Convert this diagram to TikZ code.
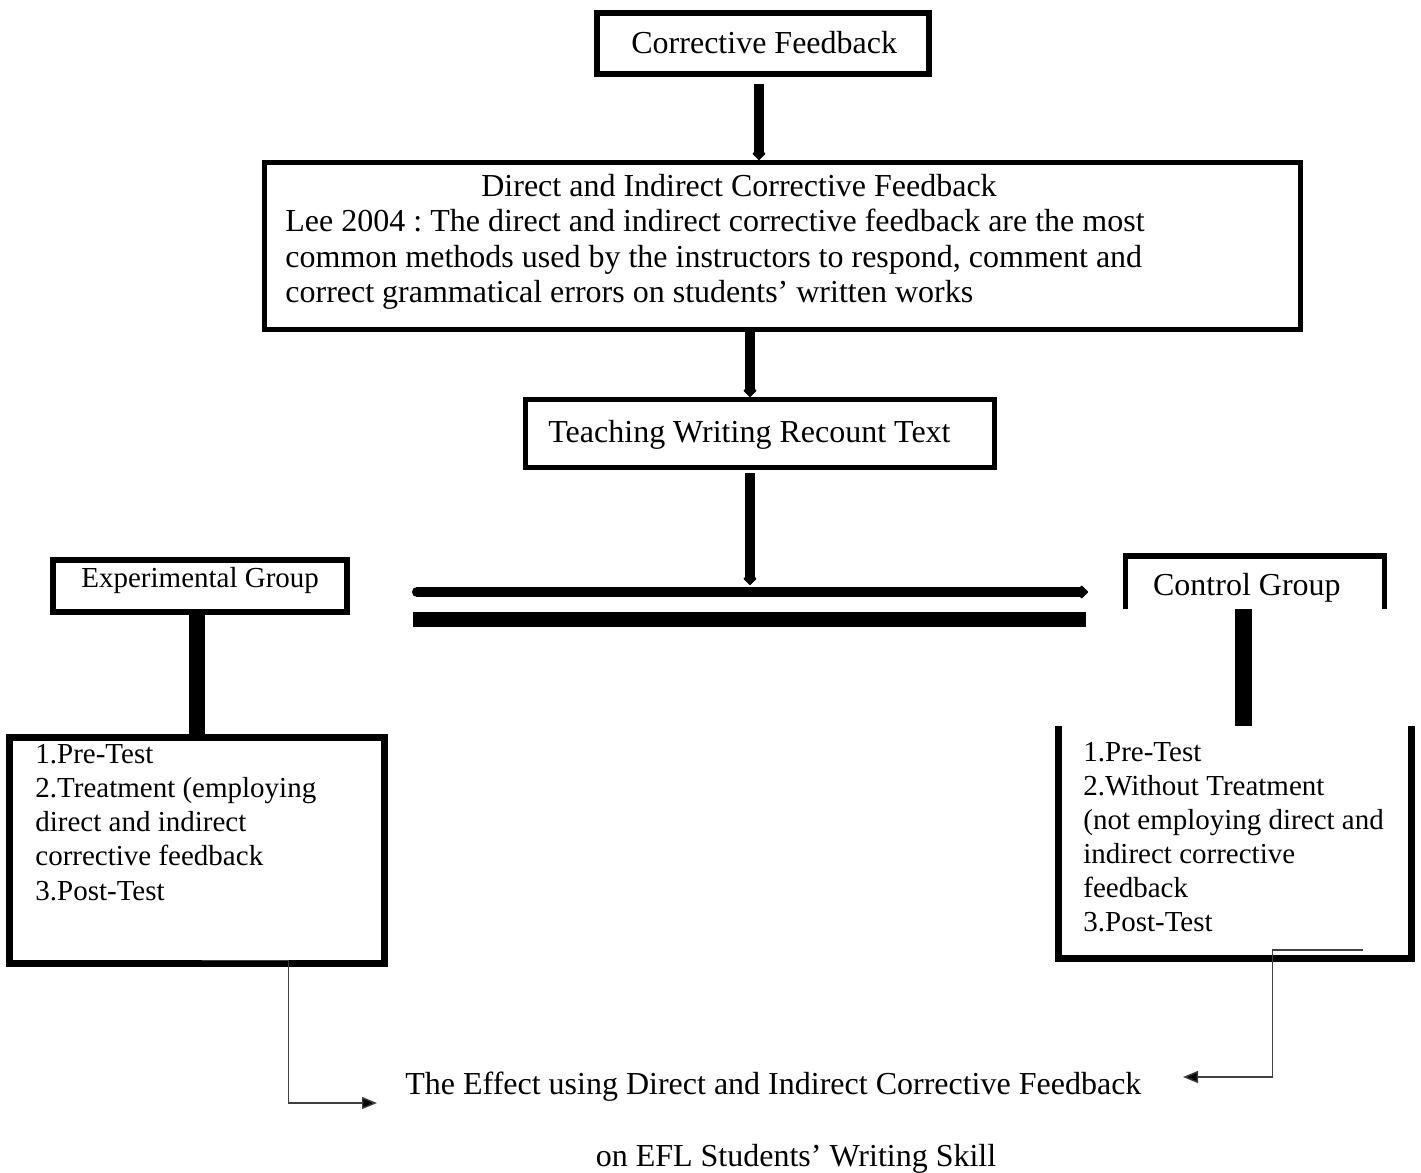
\documentclass[tikz,border=0pt]{standalone}
\usepackage{fontspec}
\setmainfont{Liberation Serif}
\usetikzlibrary{arrows.meta,calc}
\frenchspacing
\begin{document}
\begin{tikzpicture}[x=0.5pt,y=-0.5pt,
  boxthick/.style={draw, line width=3pt, inner sep=0pt},
  boxmid/.style={draw, line width=2.5pt, inner sep=0pt},
  openbox/.style={inner sep=0pt, outer sep=0pt},
  txtL/.style={inner sep=0pt, anchor=base west, font=\fontsize{16}{19}\selectfont},
  txtS/.style={inner sep=0pt, anchor=base west, font=\fontsize{14.5}{17}\selectfont},
  stem/.style={line width=5pt, -{Triangle[length=4pt,width=7.5pt,round]}},
  thinconn/.style={line width=0.7pt, draw=black!75, -{Triangle[length=7.5pt,width=6pt,fill=black]}}]
\fill[white] (0,0) rectangle (1421,1173);
\useasboundingbox (0,0) rectangle (1421,1173);

% top boxes
\node[boxthick, minimum width=166pt, minimum height=30.5pt] (b1) at (763,43.5) {};
\node[txtL] (t1) at (631,53) {Corrective Feedback};
\node[boxmid, minimum width=518pt, minimum height=83.5pt] (b2) at (782.5,246) {};
\node[txtL, anchor=base] (t2a) at (739,196) {Direct and Indirect Corrective Feedback};
\node[txtL] (t2b) at (285,231.5) {Lee 2004 : The direct and indirect corrective feedback are the most};
\node[txtL] (t2c) at (285,267) {common methods used by the instructors to respond, comment and};
\node[txtL] (t2d) at (285,302.5) {correct grammatical errors on students’ written works};
\node[boxmid, minimum width=234.5pt, minimum height=34pt] (b3) at (760,433.5) {};
\node[txtL] (t3) at (548,442) {Teaching Writing Recount Text};

% stems
\coordinate (x1) at (759,0);
\coordinate (x2) at (750,0);
\draw[stem, shorten <=3.5pt] (b1.south -| x1) -- (b2.north -| x1);
\draw[stem] (b2.south -| x2) -- (b3.north -| x2);
\coordinate (h1a) at (417,592);
\coordinate (h1b) at (1088,592);
\coordinate (h2a) at (413,619);
\coordinate (h2b) at (1086,619);
\draw[stem, shorten <=1.5pt, shorten >=3.5pt] (b3.south -| x2) -- (h1a -| x2);
\draw[line width=5pt, line cap=round, -{Triangle[length=4pt,width=7.5pt,round]}] (h1a) -- (h1b);
\draw[line width=7.5pt] (h2a) -- (h2b);

% experimental group
\node[boxthick, minimum width=147pt, minimum height=26pt] (eg) at (200,586) {};
\node[txtS] (teg) at (81,587) {Experimental Group};
\node[draw, line width=3.5pt, inner sep=0pt, minimum width=187.5pt, minimum height=113pt] (el) at (197,850.5) {};
\node[txtS] (e1) at (35,763) {1.Pre-Test};
\node[txtS] (e2) at (35,797) {2.Treatment (employing};
\node[txtS] (e3) at (35,831.5) {direct and indirect};
\node[txtS] (e4) at (35,865.5) {corrective feedback};
\node[txtS] (e5) at (35,900) {3.Post-Test};
\coordinate (x3) at (197,0);
\draw[line width=8pt] (eg.south -| x3) -- (el.north -| x3);

% control group
\node[openbox, minimum width=129.5pt, minimum height=26.5pt] (cg) at (1255,582.5) {};
\draw[line width=2.75pt] (cg.south west) |- (cg.north east) -- (cg.south east);
\node[txtL] (tcg) at (1152.7,595) {Control Group};
\node[openbox, minimum width=176.25pt, minimum height=116.25pt] (cl) at (1234.75,842.25) {};
\draw[line width=3.5pt] (cl.north west) |- (cl.south east) -- (cl.north east);
\node[txtS] (c1) at (1083,761.5) {1.Pre-Test};
\node[txtS] (c2) at (1083,795.5) {2.Without Treatment};
\node[txtS] (c3) at (1083,829.5) {(not employing direct and};
\node[txtS] (c4) at (1083,863.5) {indirect corrective};
\node[txtS] (c5) at (1083,897.5) {feedback};
\node[txtS] (c6) at (1083,931.5) {3.Post-Test};
\coordinate (x4) at (1243.5,0);
\draw[line width=8.5pt] (cg.south -| x4) -- (cl.north -| x4);

% result
\node[txtL] (eff1) at (405,1094) {The Effect using Direct and Indirect Corrective Feedback};
\node[txtL, anchor=base] (eff2) at (796,1166) {on EFL Students’ Writing Skill};
\coordinate (ea) at (377,1103);
\coordinate (ca) at (1183,1077);
\draw[thinconn] ($(el.south)+(4.7,-6.25)$) -- ++(86.8,0) |- (ea);
\draw[thinconn] ($(cl.south)+(128.25,-8.5)$) -- ++(-90.5,0) |- (ca);
\end{tikzpicture}
\end{document}
